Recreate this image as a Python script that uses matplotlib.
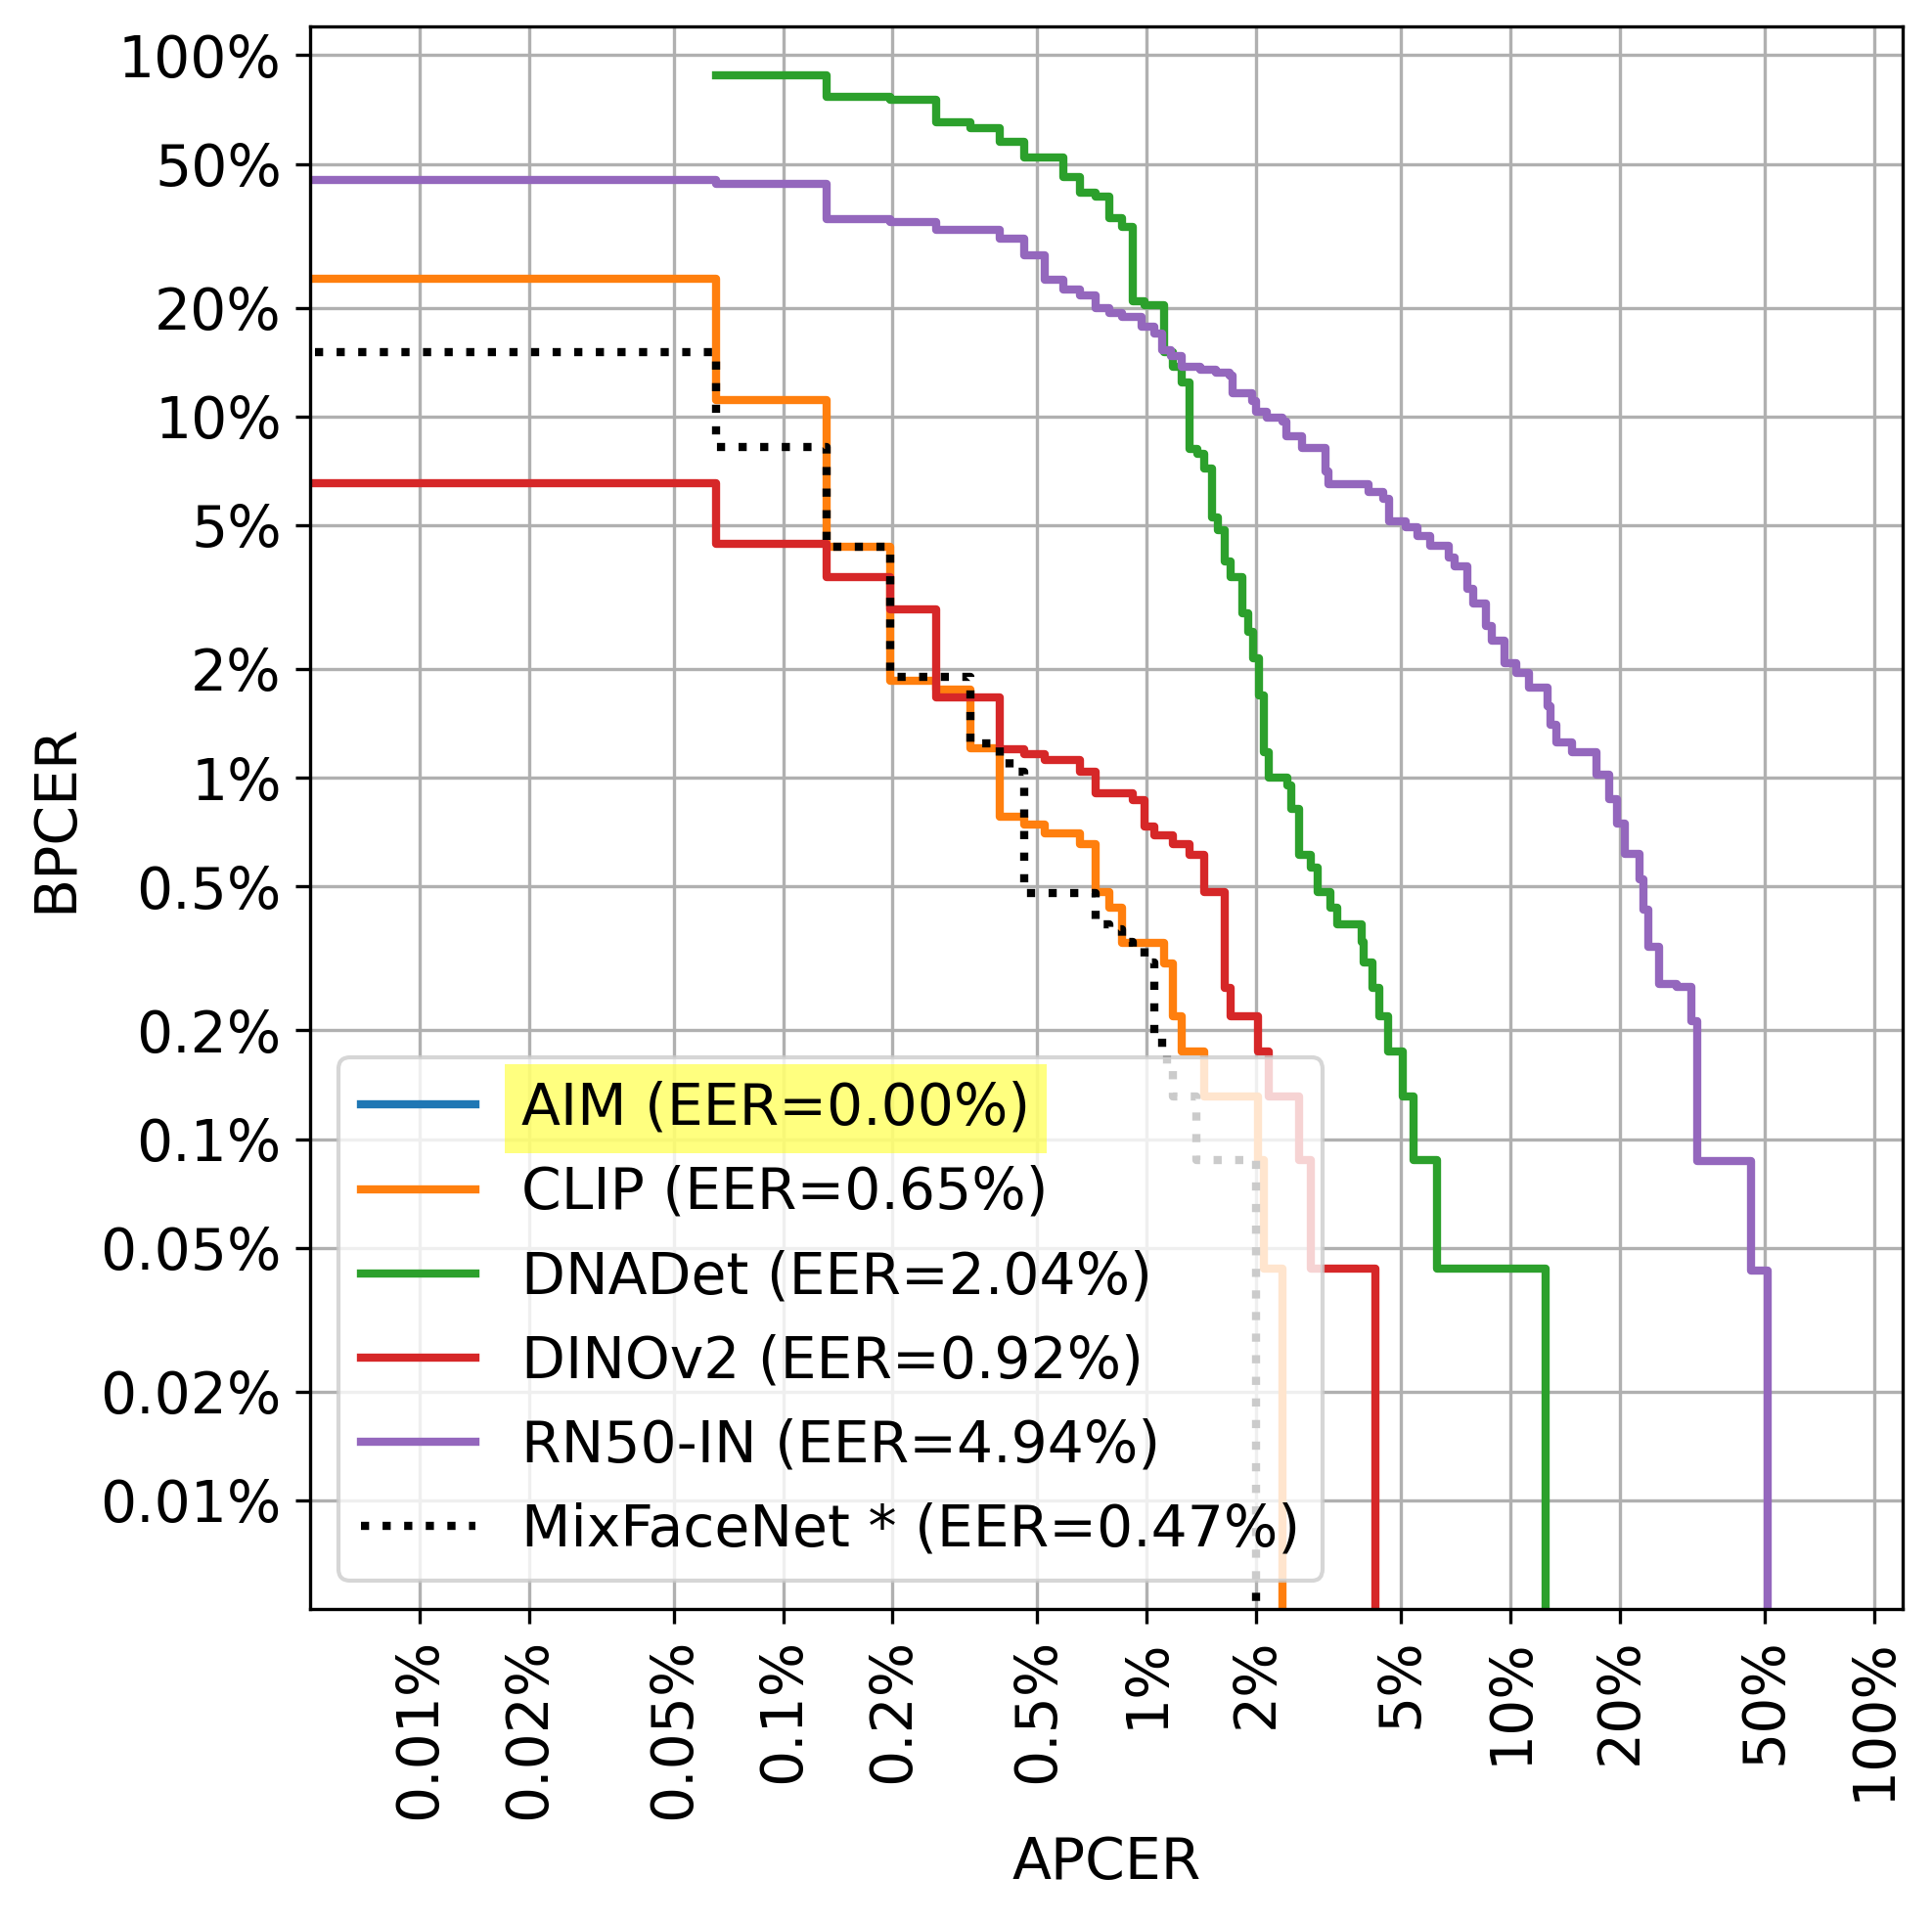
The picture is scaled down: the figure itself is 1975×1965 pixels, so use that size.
import matplotlib
matplotlib.use("Agg")
import matplotlib.pyplot as plt
import numpy as np

# DET curves, all values in percent.
# x[i] is the APCER where the curve drops to BPCER y[i], then runs flat to x[i+1].
aim_apcer = [1e-6, 1e-6]
aim_bpcer = [100.0, 1e-6]

clip_apcer = [0.001, 0.0656, 0.1316, 0.197, 0.263, 0.328, 0.394, 0.459, 0.525, 0.656,
              0.722, 0.787, 0.853, 1.115, 1.18, 1.246, 1.443, 2.03, 2.1, 2.36]
clip_bpcer = [24.0, 11.1, 4.35, 1.85, 1.75, 1.21, 0.78, 0.74, 0.70, 0.656,
              0.483, 0.438, 0.35, 0.307, 0.219, 0.175, 0.1315, 0.0877, 0.0438, 0.0001]

dnadet_apcer = [0.0656, 0.1316, 0.197, 0.263, 0.328, 0.394, 0.459, 0.59, 0.656, 0.722,
                0.787, 0.853, 0.918, 0.984, 1.115, 1.18, 1.246, 1.312, 1.378, 1.443,
                1.509, 1.574, 1.64, 1.706, 1.837, 1.902, 1.968, 2.034, 2.10, 2.165,
                2.43, 2.5, 2.62, 2.82, 2.95, 3.2, 3.34, 3.9, 3.95, 4.19,
                4.37, 4.6, 5.07, 5.42, 6.27, 12.5]
dnadet_bpcer = [87.8, 76.7, 75.1, 65.3, 62.9, 57.5, 52.2, 46.0, 41.6, 40.6,
                35.4, 33.5, 20.8, 20.3, 15.1, 13.7, 12.4, 8.14, 7.88, 7.18,
                5.25, 4.83, 3.96, 3.59, 2.86, 2.53, 2.14, 1.69, 1.18, 1.0,
                0.955, 0.82, 0.612, 0.563, 0.483, 0.438, 0.392, 0.351, 0.308, 0.262,
                0.219, 0.175, 0.1315, 0.0877, 0.0438, 0.0001]

dinov2_apcer = [0.001, 0.0656, 0.1316, 0.197, 0.263, 0.394, 0.459, 0.525, 0.656, 0.722,
                0.918, 0.984, 1.05, 1.18, 1.312, 1.443, 1.64, 1.706, 2.03, 2.165,
                2.62, 2.82, 4.26]
dinov2_bpcer = [6.55, 4.45, 3.59, 2.92, 1.667, 1.20, 1.16, 1.12, 1.04, 0.904,
                0.867, 0.733, 0.694, 0.656, 0.612, 0.483, 0.262, 0.219, 0.175, 0.1315,
                0.0877, 0.0438, 0.0001]

rn50_apcer = [0.001, 0.0656, 0.1316, 0.197, 0.263, 0.394, 0.459, 0.525, 0.59, 0.656,
              0.722, 0.787, 0.853, 0.967, 1.05, 1.1, 1.165, 1.25, 1.4, 1.55,
              1.695, 1.72, 1.95, 2.0, 2.14, 2.37, 2.42, 2.67, 3.10, 3.17,
              4.07, 4.47, 4.65, 5.15, 5.57, 6.02, 6.77, 7.04, 7.61, 7.91,
              8.56, 8.9, 9.62, 10.4, 11.25, 12.65, 12.9, 13.4, 14.8, 17.3,
              18.7, 19.7, 20.7, 22.7, 23.3, 24.0, 25.6, 28.7, 31.5, 32.7,
              46.0, 51.0]
rn50_bpcer = [45.0, 43.9, 35.2, 34.5, 32.9, 31.0, 28.0, 23.95, 22.5, 21.6,
              19.9, 19.3, 18.8, 17.7, 17.0, 15.3, 14.7, 13.7, 13.5, 13.2,
              13.0, 11.6, 11.0, 10.3, 9.9, 9.7, 8.83, 8.2, 7.04, 6.51,
              6.16, 5.92, 5.14, 4.94, 4.68, 4.39, 4.06, 3.84, 3.34, 3.03,
              2.63, 2.40, 2.08, 1.95, 1.78, 1.58, 1.40, 1.25, 1.18, 1.02,
              0.875, 0.748, 0.614, 0.525, 0.431, 0.340, 0.269, 0.263, 0.212, 0.087,
              0.0432, 0.0001]

mixface_apcer = [0.001, 0.0656, 0.1316, 0.197, 0.328, 0.394, 0.42, 0.459, 0.722, 0.787,
                 0.853, 0.918, 0.984, 1.05, 1.10, 1.14, 1.18, 1.37, 2.0]
mixface_bpcer = [15.07, 8.22, 4.35, 1.906, 1.245, 1.13, 1.04, 0.48, 0.394, 0.38,
                 0.351, 0.338, 0.308, 0.193, 0.175, 0.157, 0.1315, 0.0877, 0.0001]

labels = ["AIM (EER=0.00%)", "CLIP (EER=0.65%)", "DNADet (EER=2.04%)",
          "DINOv2 (EER=0.92%)", "RN50-IN (EER=4.94%)", "MixFaceNet * (EER=0.47%)"]

tick_values = [0.01, 0.02, 0.05, 0.1, 0.2, 0.5, 1, 2, 5, 10, 20, 50, 100]
tick_labels = ["0.01%", "0.02%", "0.05%", "0.1%", "0.2%", "0.5%", "1%",
               "2%", "5%", "10%", "20%", "50%", "100%"]

plt.rcParams["font.size"] = 14

fig = plt.figure(figsize=(1975 / 300, 1965 / 300), dpi=300)
ax = fig.add_axes([0.1605, 0.1628, 0.8243, 0.8234])

curves = [
    (aim_apcer, aim_bpcer, "tab:blue", "-"),
    (clip_apcer, clip_bpcer, "tab:orange", "-"),
    (dnadet_apcer, dnadet_bpcer, "tab:green", "-"),
    (dinov2_apcer, dinov2_bpcer, "tab:red", "-"),
    (rn50_apcer, rn50_bpcer, "tab:purple", "-"),
    (mixface_apcer, mixface_bpcer, "black", ":"),
]
for (xs, ys, color, ls), label in zip(curves, labels):
    ax.step(np.array(xs) / 100, np.array(ys) / 100, where="post",
            color=color, linestyle=ls, linewidth=2, label=label)

ax.set_xscale("log")
ax.set_yscale("log")
ax.set_xlim(5e-5, 1.2)
ax.set_ylim(5e-5, 1.2)

ticks = np.array(tick_values) / 100
ax.set_xticks(ticks)
ax.set_xticklabels(tick_labels, rotation=90)
ax.set_yticks(ticks)
ax.set_yticklabels(tick_labels)
ax.minorticks_off()
ax.grid(True)

ax.set_xlabel("APCER")
ax.set_ylabel("BPCER")

leg = ax.legend(loc="lower left")
leg.get_texts()[0].set_bbox(dict(facecolor="yellow", alpha=0.5, edgecolor="none"))

fig.savefig("out.png", dpi=300)
